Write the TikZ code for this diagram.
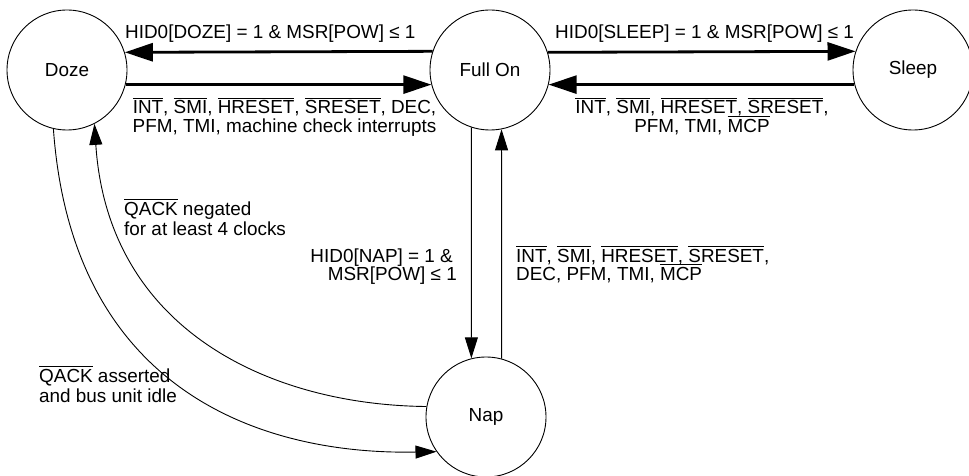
\documentclass[tikz,border=0pt]{standalone}
\usepackage{fontspec}
\setmainfont{Liberation Sans}
\usetikzlibrary{arrows.meta}
\newcommand\ovl[1]{\vbox{\hrule height 0.9pt\kern 2pt\hbox{#1}}}
\newcommand\fntA{\fontsize{18.9}{18}\selectfont\lineskiplimit=-20pt\relax}
\newcommand\fntB{\fontsize{18.9}{19.5}\selectfont\lineskiplimit=-20pt\relax}
\begin{document}
\begin{tikzpicture}[x=1pt,y=-1pt,
  font=\fntA,
  state/.style={circle,draw,line width=0.9pt,minimum size=120pt,inner sep=0pt},
  thickarrow/.style={line width=2.8pt,-{Triangle[length=28pt,width=18pt]}},
  thinarrow/.style={line width=0.9pt,-{Triangle[length=21pt,width=13pt]}},
  lbl/.style={inner sep=0pt},
  widelbl/.style={inner sep=0pt,font=\fntB}]
\useasboundingbox (0,0) rectangle (969,476);
\node[state] (doze) at (67,70) {Doze};
\node[state] (fullon) at (490,70) {Full On};
\node[state] (sleep) at (913,70) {Sleep};
\node[state] (nap) at (486,417) {Nap};

\draw[thickarrow] (fullon.162.5) -- (doze.17.5);
\draw[thickarrow] (doze.-14.5) -- (fullon.194.5);
\draw[thickarrow] (fullon.17.5) -- (sleep.162.5);
\draw[thickarrow] (sleep.194.5) -- (fullon.-14.5);

\draw[thinarrow] (fullon.-108.45) -- (nap.104.5);
\draw[thinarrow] (nap.75.5) -- (fullon.-79.4);

\draw[thinarrow] (doze.-103.3) .. controls (72,390) and (260,455) .. (nap.-145.8);
\draw[thinarrow] (nap.170.4) .. controls (270,405) and (108,330) .. (doze.-63);

\node[lbl,anchor=base west] (l1) at (125,38.5) {HID0[DOZE] = 1 \& MSR[POW] ≤ 1};
\node[lbl,anchor=base,align=center] (l2) at (284.5,132) {\ovl{INT}, \ovl{SMI}, \ovl{HRESET}, \ovl{SRESET}, DEC,\\PFM, TMI, machine check interrupts};
\node[lbl,anchor=base west] (l3) at (555,38.5) {HID0[SLEEP] = 1 \& MSR[POW] ≤ 1};
\node[lbl,anchor=base,align=center] (l4) at (702,132) {\ovl{INT}, \ovl{SMI}, \ovl{HRESET}, \ovl{SRESET},\\PFM, TMI, \ovl{MCP}};
\node[widelbl,anchor=base west,align=left] (l5) at (124,235) {\ovl{QACK} negated\\for at least 4 clocks};
\node[lbl,anchor=base east,align=right] (l6) at (457,280) {HID0[NAP] = 1 \&\hspace*{4pt}\\MSR[POW] ≤ 1};
\node[lbl,anchor=base west,align=left] (l7) at (516,280) {\ovl{INT}, \ovl{SMI}, \ovl{HRESET}, \ovl{SRESET},\\DEC, PFM, TMI, \ovl{MCP}};
\node[widelbl,anchor=base west,align=left] (l8) at (39,402) {\ovl{QACK} asserted\\and bus unit idle};
\end{tikzpicture}
\end{document}
